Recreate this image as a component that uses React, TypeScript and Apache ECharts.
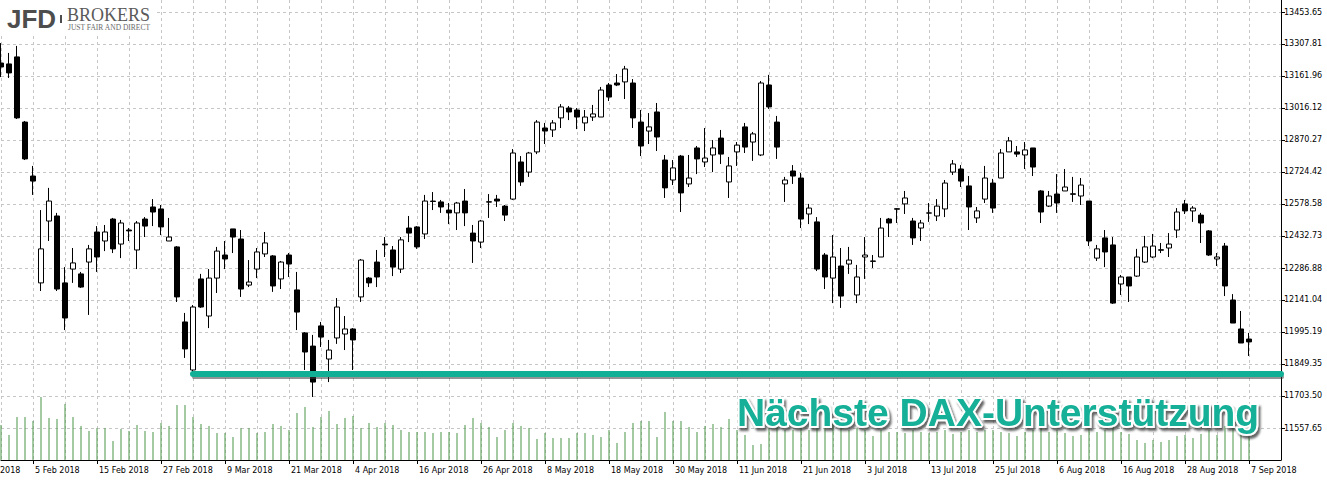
import React, { useEffect, useRef } from 'react';
import * as echarts from 'echarts';

// ---- DATA (DAX daily) ----
const firstTradingDay = '2018-01-30';
const marketHolidays = ['2018-03-30', '2018-04-02'];
const slotCount = 161; // 157 candles + 4 empty future slots
const partialLeftLabel = '2018';

const opens = [
  13221, 13217, 13249, 12952, 12706, 12219, 12501, 12524, 12219, 12282,
  12260, 12314, 12451, 12410, 12510, 12396, 12460, 12369, 12510, 12565,
  12556, 12410, 12383, 12041, 11822, 12237, 12068, 12241, 12346, 12465,
  12419, 12209, 12282, 12351, 12342, 12237, 12346, 12187, 11991, 11931,
  12023, 11872, 11968, 11986, 12009, 12155, 12241, 12314, 12396, 12369,
  12282, 12469, 12474, 12442, 12592, 12588, 12551, 12538, 12592, 12446,
  12405, 12587, 12601, 12569, 12601, 12770, 12724, 12816, 12925, 12916,
  12971, 13016, 13007, 12948, 12975, 12975, 13121, 13130, 13135, 13130,
  12952, 12911, 12998, 12779, 12688, 12797, 12670, 12834, 12770, 12802,
  12879, 12679, 12816, 12930, 12861, 12802, 13121, 12952, 12670, 12729,
  12697, 12533, 12497, 12346, 12241, 12296, 12305, 12164, 12337, 12317,
  12337, 12510, 12557, 12579, 12501, 12469, 12538, 12524, 12556, 12724,
  12738, 12661, 12515, 12601, 12674, 12697, 12816, 12816, 12802, 12834,
  12638, 12569, 12624, 12638, 12625, 12615, 12592, 12332, 12424, 12392,
  12214, 12246, 12250, 12314, 12337, 12370, 12378, 12460, 12579, 12547,
  12528, 12456, 12328, 12387, 12141, 12009, 11963,
];
const closes = [
  13203, 13176, 12971, 12784, 12683, 12374, 12592, 12191, 12059, 12310,
  12200, 12374, 12337, 12451, 12374, 12492, 12456, 12492, 12478, 12542,
  12474, 12428, 12155, 11918, 12109, 12109, 12241, 12364, 12328, 12428,
  12191, 12223, 12360, 12401, 12205, 12314, 12305, 12086, 11904, 11767,
  11972, 11913, 12109, 12009, 11959, 12323, 12219, 12246, 12392, 12291,
  12415, 12446, 12383, 12592, 12590, 12565, 12538, 12583, 12538, 12410,
  12501, 12589, 12592, 12528, 12811, 12679, 12811, 12952, 12911, 12948,
  13021, 12998, 12975, 12975, 12989, 13098, 13066, 13121, 13194, 12971,
  12843, 12930, 12884, 12652, 12743, 12629, 12697, 12784, 12788, 12834,
  12806, 12752, 12847, 12838, 12898, 13130, 13021, 12838, 12688, 12706,
  12510, 12560, 12282, 12246, 12337, 12159, 12323, 12246, 12346, 12319,
  12469, 12492, 12555, 12606, 12424, 12492, 12537, 12569, 12674, 12761,
  12683, 12565, 12547, 12697, 12560, 12811, 12866, 12806, 12825, 12747,
  12542, 12615, 12583, 12656, 12623, 12665, 12410, 12374, 12360, 12127,
  12246, 12205, 12337, 12383, 12387, 12368, 12396, 12542, 12547, 12560,
  12492, 12346, 12337, 12205, 12036, 11945, 11950,
];
const lows = [
  13157, 13153, 12966, 12779, 12620, 12182, 12410, 12182, 12004, 12219,
  12196, 12073, 12269, 12364, 12355, 12332, 12410, 12282, 12428, 12478,
  12437, 12410, 12132, 11877, 11808, 12105, 12013, 12173, 12282, 12355,
  12155, 12200, 12241, 12337, 12178, 12191, 12246, 12004, 11822, 11699,
  11927, 11767, 11941, 11913, 11822, 12132, 12200, 12200, 12337, 12250,
  12264, 12405, 12374, 12419, 12551, 12538, 12487, 12460, 12478, 12310,
  12378, 12515, 12565, 12501, 12597, 12661, 12702, 12806, 12852, 12884,
  12925, 12961, 12920, 12911, 12957, 12975, 13048, 13116, 13057, 12925,
  12797, 12852, 12820, 12606, 12665, 12542, 12656, 12715, 12747, 12724,
  12761, 12606, 12752, 12811, 12775, 12797, 13012, 12784, 12588, 12670,
  12469, 12487, 12273, 12191, 12127, 12105, 12260, 12127, 12237, 12287,
  12337, 12428, 12492, 12533, 12392, 12410, 12497, 12501, 12519, 12711,
  12656, 12460, 12492, 12583, 12538, 12697, 12816, 12793, 12738, 12706,
  12492, 12565, 12538, 12638, 12588, 12574, 12387, 12319, 12291, 12123,
  12164, 12132, 12246, 12310, 12332, 12355, 12337, 12424, 12533, 12497,
  12401, 12342, 12296, 12159, 12036, 11945, 11886,
];
const highs = [
  13312, 13267, 13299, 12957, 12752, 12551, 12652, 12538, 12291, 12378,
  12269, 12392, 12478, 12483, 12515, 12506, 12469, 12501, 12519, 12601,
  12574, 12515, 12387, 12082, 12118, 12260, 12282, 12383, 12410, 12465,
  12460, 12323, 12378, 12451, 12346, 12319, 12355, 12269, 11995, 11982,
  12041, 11959, 12150, 12068, 12013, 12328, 12246, 12369, 12428, 12387,
  12428, 12524, 12478, 12620, 12633, 12597, 12583, 12588, 12647, 12483,
  12506, 12624, 12620, 12574, 12829, 12797, 12816, 12961, 12948, 12961,
  13034, 13025, 13016, 13007, 13030, 13112, 13130, 13171, 13208, 13148,
  13007, 12993, 13039, 12802, 12779, 12802, 12802, 12843, 12925, 12870,
  12916, 12793, 12861, 12948, 12907, 13139, 13167, 12980, 12702, 12756,
  12720, 12579, 12519, 12355, 12437, 12378, 12383, 12301, 12428, 12346,
  12515, 12515, 12560, 12638, 12515, 12506, 12583, 12601, 12688, 12779,
  12756, 12706, 12565, 12752, 12693, 12829, 12884, 12843, 12861, 12834,
  12642, 12638, 12715, 12738, 12702, 12697, 12592, 12392, 12460, 12428,
  12255, 12246, 12374, 12433, 12442, 12401, 12446, 12560, 12597, 12569,
  12538, 12460, 12355, 12401, 12168, 12091, 11991,
];
// tick volume, thousands
const volumes = [
  35, 25, 43, 43, 39, 63, 42, 41, 56, 43,
  34, 29, 32, 32, 19, 31, 29, 35, 29, 28,
  37, 34, 55, 55, 43, 36, 34, 27, 27, 23,
  32, 32, 27, 28, 36, 34, 30, 47, 53, 33,
  43, 49, 36, 42, 44, 32, 37, 33, 37, 35,
  30, 28, 28, 28, 27, 28, 28, 27, 35, 42,
  37, 33, 23, 30, 37, 34, 32, 21, 27, 22,
  22, 22, 27, 27, 25, 23, 30, 17, 28, 37,
  39, 39, 23, 48, 39, 39, 33, 28, 34, 36,
  33, 41, 30, 25, 15, 16, 32, 35, 30, 30,
  36, 30, 38, 34, 36, 38, 30, 32, 30, 24,
  30, 28, 28, 27, 30, 28, 27, 28, 30, 26,
  28, 30, 28, 30, 30, 28, 27, 24, 28, 30,
  32, 28, 30, 27, 24, 25, 32, 28, 30, 36,
  28, 26, 20, 17, 20, 18, 20, 24, 25, 22,
  26, 30, 25, 34, 38, 36, 30,
];
const yTickLabels = [
  '11557.65', '11703.50', '11849.35', '11995.19', '12141.04', '12286.88', '12432.73',
  '12578.58', '12724.42', '12870.27', '13016.12', '13161.96', '13307.81', '13453.65',
];
const supportLevel = 11804;
const supportFromIndex = 24;
const annotationText = 'Nächste DAX-Unterstützung';
const logoMain = 'JFD';
const logoSide = 'BROKERS';
const logoTagline = 'JUST FAIR AND DIRECT';

// ---- helpers ----
const MONTHS = ['Jan', 'Feb', 'Mar', 'Apr', 'May', 'Jun', 'Jul', 'Aug', 'Sep', 'Oct', 'Nov', 'Dec'];
function tradingDays(start: string, count: number, holidays: string[]): string[] {
  const out: string[] = [];
  const d = new Date(start + 'T00:00:00Z');
  while (out.length < count) {
    const dow = d.getUTCDay();
    const iso = d.toISOString().slice(0, 10);
    if (dow !== 0 && dow !== 6 && !holidays.includes(iso)) {
      out.push(`${d.getUTCDate()} ${MONTHS[d.getUTCMonth()]} ${d.getUTCFullYear()}`);
    }
    d.setUTCDate(d.getUTCDate() + 1);
  }
  return out;
}

const GRID_COLOR = '#c6c6c6';
const TEAL = '#12af97';
const AXIS_FONT = 'DejaVu Sans';
const ANNOT_FONT = 'bold 39px "Liberation Sans"';

export default function App() {
  const ref = useRef<HTMLDivElement>(null);

  useEffect(() => {
    if (!ref.current) return;
    const chart = echarts.init(ref.current, undefined, { renderer: 'svg' });

    const categories = tradingDays(firstTradingDay, slotCount, marketHolidays);
    const candles = opens.map((o, i) => [o, closes[i], lows[i], highs[i]]);
    const tickValues = yTickLabels.map((s) => parseFloat(s));
    const tickStart = tickValues[0];
    const tickStep = (tickValues[tickValues.length - 1] - tickStart) / (tickValues.length - 1);
    const yMin = tickStart - tickStep;
    const yMax = tickValues[tickValues.length - 1] + tickStep * 0.375;

    const yFormatter = (v: number) => {
      const k = Math.round((v - tickStart) / tickStep);
      if (Math.abs(v - (tickStart + k * tickStep)) > tickStep * 0.05) return '';
      return yTickLabels[k] ?? '';
    };

    const option: any = {
      animation: false,
      backgroundColor: '#ffffff',
      grid: { left: 1, right: 46, top: 0, bottom: 20, containLabel: false },
      xAxis: {
        type: 'category',
        data: categories,
        boundaryGap: false,
        axisLine: { show: true, onZero: false, lineStyle: { color: '#000', width: 1 } },
        axisTick: {
          show: true,
          length: 4,
          interval: (i: number) => i % 8 === 4,
          lineStyle: { color: '#000' },
        },
        axisLabel: {
          show: true,
          interval: (i: number) => i % 8 === 4,
          align: 'left',
          padding: [0, 0, 0, 2],
          margin: 6,
          color: '#000',
          fontFamily: AXIS_FONT,
          fontSize: 8,
        },
        splitLine: {
          show: true,
          interval: (i: number) => i % 4 === 0,
          lineStyle: { color: GRID_COLOR, type: [3, 3], width: 1 },
        },
      },
      yAxis: [
        {
          type: 'value',
          position: 'right',
          min: yMin,
          max: yMax,
          interval: tickStep,
          axisLine: { show: true, lineStyle: { color: '#000', width: 1 } },
          axisTick: { show: true, length: 4, lineStyle: { color: '#000' }, customValues: tickValues },
          axisLabel: {
            show: true,
            color: '#000',
            fontFamily: AXIS_FONT,
            fontSize: 8,
            margin: 3,
            formatter: yFormatter,
            customValues: tickValues,
          },
          splitLine: {
            show: true,
            customValues: tickValues,
            lineStyle: { color: GRID_COLOR, type: [3, 3], width: 1 },
          },
        },
        {
          type: 'value',
          min: 0,
          max: 460,
          show: false,
          splitLine: { show: false },
        },
      ],
      series: [
        {
          type: 'bar',
          name: 'Volume',
          yAxisIndex: 1,
          data: volumes,
          barWidth: 1,
          itemStyle: { color: '#4a964a' },
          silent: true,
          z: 1,
        },
        {
          type: 'candlestick',
          name: 'DAX',
          data: candles,
          barWidth: 5,
          z: 3,
          itemStyle: {
            color: '#ffffff',
            color0: '#000000',
            borderColor: '#000000',
            borderColor0: '#000000',
            borderWidth: 1,
          },
        },
        {
          type: 'line',
          name: 'Support',
          data: [
            [supportFromIndex, supportLevel],
            [slotCount - 1, supportLevel],
          ],
          symbol: 'none',
          silent: true,
          z: 6,
          clip: false,
          lineStyle: { color: TEAL, width: 6, cap: 'round' },
        },
      ],
    };

    chart.setOption(option);

    // shadow under the support line, placed with the chart's own scales
    const p1 = chart.convertToPixel({ gridIndex: 0 }, [supportFromIndex, supportLevel]) as number[];
    const p2 = chart.convertToPixel({ gridIndex: 0 }, [slotCount - 1, supportLevel]) as number[];
    const axisLabelY = chart.convertToPixel({ gridIndex: 0 }, [0, yMin]) as number[];

    chart.setOption({
      graphic: [
        {
          type: 'line',
          z: 5,
          silent: true,
          shape: { x1: p1[0] + 1, y1: p1[1] + 3, x2: p2[0] + 1, y2: p2[1] + 3 },
          style: { stroke: 'rgba(60,60,60,0.55)', lineWidth: 4, lineCap: 'round' },
        },
        {
          type: 'text',
          x: 0,
          y: axisLabelY[1] + 10,
          silent: true,
          style: {
            text: partialLeftLabel,
            fill: '#000',
            font: `8px "${AXIS_FONT}"`,
            align: 'left',
            verticalAlign: 'middle',
          },
        },
        {
          type: 'rect',
          shape: { x: 0, y: 0, width: 157, height: 33 },
          style: { fill: '#ffffff' },
          silent: true,
          z: 50,
        },
        {
          type: 'text',
          x: 7,
          y: 18.5,
          z: 51,
          silent: true,
          style: {
            text: logoMain,
            fill: '#4d4d4d',
            font: 'bold 26px "Liberation Sans"',
            align: 'left',
            verticalAlign: 'middle',
          },
        },
        {
          type: 'rect',
          shape: { x: 60, y: 15, width: 2, height: 8 },
          style: { fill: '#4d4d4d' },
          silent: true,
          z: 51,
        },
        {
          type: 'text',
          x: 67,
          y: 15,
          z: 51,
          silent: true,
          style: {
            text: logoSide,
            fill: '#5a5a5a',
            font: '18px "Liberation Serif"',
            align: 'left',
            verticalAlign: 'middle',
          },
        },
        {
          type: 'text',
          x: 68,
          y: 27.5,
          z: 51,
          silent: true,
          style: {
            text: logoTagline,
            fill: '#6a6a6a',
            font: '7.5px "Liberation Serif"',
            align: 'left',
            verticalAlign: 'middle',
          },
        },
        {
          type: 'text',
          x: 737,
          y: 412.5,
          z: 61,
          silent: true,
          style: {
            text: annotationText,
            fill: TEAL,
            stroke: '#ffffff',
            lineWidth: 4,
            font: ANNOT_FONT,
            align: 'left',
            verticalAlign: 'middle',
            textShadowColor: 'rgba(50,50,50,0.75)',
            textShadowBlur: 2,
            textShadowOffsetX: 2,
            textShadowOffsetY: 3,
          },
        },
      ],
    });

    return () => chart.dispose();
  }, []);

  return (
    <div
      ref={ref}
      style={{ position: 'absolute', left: 0, top: 0, width: 1327, height: 480, background: '#fff', overflow: 'hidden' }}
    />
  );
}
